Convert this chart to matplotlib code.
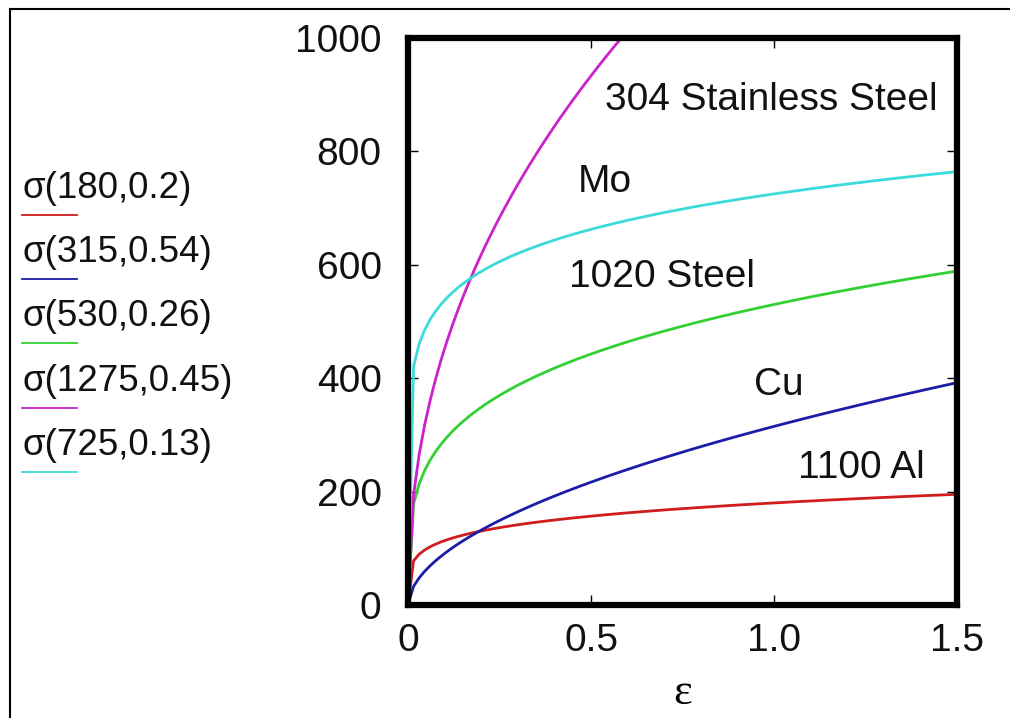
"""
Flow-stress curves  sigma = K * eps^n  for five metals.
Legend shows sigma(K, n) as read from the reference figure.
"""

import numpy as np
import matplotlib
matplotlib.use("Agg")                # headless
import matplotlib.pyplot as plt
from matplotlib.lines import Line2D

############################################################
# Data (strength coefficient K [MPa], hardening exponent n)
############################################################

MATERIALS = ["1100 Al", "Cu", "1020 Steel", "304 Stainless Steel", "Mo"]
K_VALUES  = [180, 315, 530, 1275, 725]
N_VALUES  = [0.2, 0.54, 0.26, 0.45, 0.13]

X_TICKS       = [0, 0.5, 1.0, 1.5]
X_TICK_LABELS = ["0", "0.5", "1.0", "1.5"]
Y_TICKS       = [0, 200, 400, 600, 800, 1000]
Y_TICK_LABELS = ["0", "200", "400", "600", "800", "1000"]

# strain samples (gnuplot default: 100 samples over the x range)
EPS = np.linspace(0.0, 1.5, 100)

############################################################
# Style
############################################################

COLORS = ["#d01c1c", "#1c1ca8", "#33d033", "#cc22cc", "#3cdada"]

# label anchor points (data coords, text baseline)
LABEL_POS = {
    "1100 Al":             (1.240, 224),
    "Cu":                  (1.014, 370),
    "1020 Steel":          (0.694, 561),
    "304 Stainless Steel": (0.993, 873),
    "Mo":                  (0.538, 728),
}

plt.rcParams.update({
    "font.family": ["Liberation Sans", "DejaVu Sans"],
    "text.color":  "#111111",
})

W, H = 1010, 718
fig = plt.figure(figsize=(W / 100, H / 100), dpi=100)
fig.patch.set_facecolor("white")

ax = fig.add_axes([408 / W, (H - 605) / H, 549 / W, 567 / H])

# ── curves ────────────────────────────────────────────────
for k, n, c in zip(K_VALUES, N_VALUES, COLORS):
    sigma = k * EPS ** n
    ax.plot(EPS, sigma, color=c, linewidth=2.0, solid_capstyle="butt",
            clip_on=True, zorder=2)

# ── material labels ───────────────────────────────────────
for name in MATERIALS:
    x, y = LABEL_POS[name]
    ax.text(x, y, name, fontsize=28, ha="center", va="baseline",
            color="#111111", zorder=3)

# ── axes cosmetics ────────────────────────────────────────
ax.set_xlim(0, 1.5)
ax.set_ylim(0, 1000)
ax.set_xticks(X_TICKS)
ax.set_xticklabels(X_TICK_LABELS)
ax.set_yticks(Y_TICKS)
ax.set_yticklabels(Y_TICK_LABELS)

for sp in ax.spines.values():
    sp.set_linewidth(4.5)
    sp.set_color("black")

ax.tick_params(which="major", direction="in", length=7, width=1.0,
               top=True, right=True, labelsize=28, colors="black",
               labelcolor="#111111")
ax.tick_params(axis="y", pad=19)
ax.tick_params(axis="x", pad=13)

ax.set_xlabel("ε", fontsize=32, family=["Liberation Serif", "DejaVu Serif"],
              labelpad=10)

# ── legend: text with a short coloured line beneath ───────
leg_x0, leg_x1 = 22 / W, 77 / W
for i, (k, n, c) in enumerate(zip(K_VALUES, N_VALUES, COLORS)):
    base_px = 198 + i * 64.2
    fig.text(leg_x0, 1 - base_px / H, f"σ({k},{n})", fontsize=26.5,
             ha="left", va="baseline", color="#111111")
    ly = 1 - (base_px + 17) / H
    fig.add_artist(Line2D([leg_x0, leg_x1], [ly, ly], color=c,
                          linewidth=1.3, transform=fig.transFigure))

# ── outer frame (top and left edge of the page) ───────────
fy = 1 - 9 / H
fx = 10 / W
fig.add_artist(Line2D([fx, 1.0], [fy, fy], color="black", linewidth=1.5,
                      transform=fig.transFigure))
fig.add_artist(Line2D([fx, fx], [0.0, fy], color="black", linewidth=1.5,
                      transform=fig.transFigure))

fig.savefig("out.png", dpi=100, facecolor="white")
plt.close(fig)
